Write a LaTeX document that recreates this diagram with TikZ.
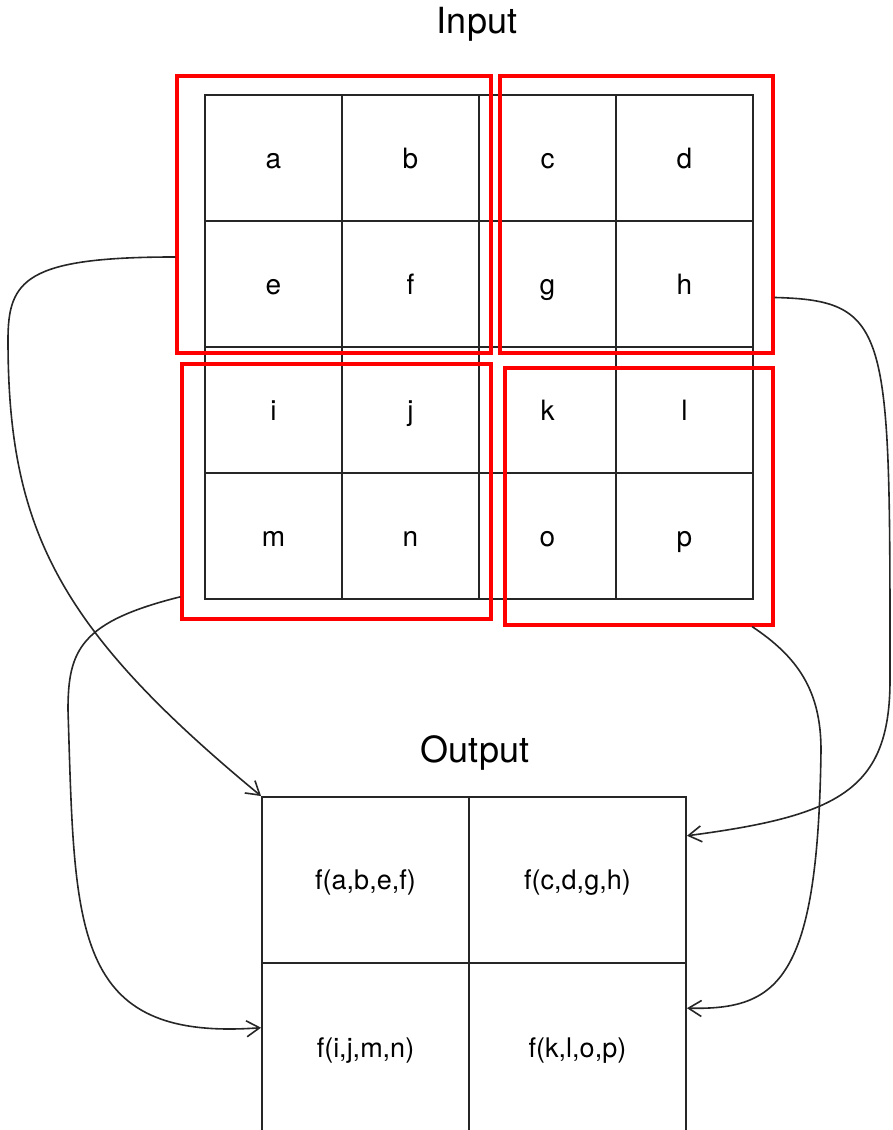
\documentclass[tikz,border=0pt]{standalone}
\usepackage{fontspec}
\setmainfont{TeX Gyre Heros}
\usetikzlibrary{arrows.meta}
\definecolor{rojovivo}{rgb}{1,0,0}
\definecolor{grisoscuro}{rgb}{0.15,0.15,0.15}
\tikzset{
  celda/.style={
    draw=grisoscuro,
    line width=1.9pt,
    minimum width=137pt,
    minimum height=126pt,
    inner sep=0pt,
    text height=22pt,
    text depth=0pt,
    font=\fontsize{28}{32}\selectfont
  },
  salida/.style={
    draw=grisoscuro,
    line width=1.9pt,
    inner sep=0pt,
    text height=25pt,
    text depth=6pt,
    font=\fontsize{27}{32}\selectfont
  },
  marco/.style={
    draw=rojovivo,
    line width=3.2pt,
    inner sep=0pt
  },
  titulo/.style={
    font=\fontsize{36}{40}\selectfont,
    anchor=base
  },
  flecha/.style={
    -{Straight Barb[length=13pt,width=16pt]},
    line width=1.6pt,
    grisoscuro
  }
}
\begin{document}
\begin{tikzpicture}[x=1pt,y=1pt]
\useasboundingbox (0,0) rectangle (892,1130);
\clip (0,0) rectangle (892,1130);
% input grid
\node[titulo] (in) at (477,1096) {Input};
\foreach \l [count=\i from 0] in {a,...,p} {
  \pgfmathtruncatemacro\c{mod(\i,4)}
  \pgfmathtruncatemacro\r{\i/4}
  \node[celda] (\l) at ({273.5+137*\c},{972-126*\r}) {\l};
}
% red blocks
\node[marco,minimum width=314pt,minimum height=277pt] (r1) at (334,915.5) {};
\node[marco,minimum width=273pt,minimum height=277pt] (r2) at (636.5,915.5) {};
\node[marco,minimum width=309pt,minimum height=255pt] (r3) at (336.5,638.5) {};
\node[marco,minimum width=268pt,minimum height=257pt] (r4) at (639,633.5) {};
% output grid
\node[titulo] (out) at (475,367) {Output};
\node[salida,minimum width=207pt,minimum height=166pt] (o1) at (365.5,250) {f(a,b,e,f)};
\node[salida,minimum width=217pt,minimum height=166pt] (o2) at (577.5,250) {f(c,d,g,h)};
\node[salida,minimum width=207pt,minimum height=170pt] (o3) at (365.5,82) {f(i,j,m,n)};
\node[salida,minimum width=217pt,minimum height=170pt] (o4) at (577.5,82) {f(k,l,o,p)};
% connectors
\draw[flecha] (r1.195) .. controls +(-150,0) and +(0,60) .. (8,790)
  .. controls +(0,-190) and +(-202,167) .. (o1.north west);
\draw[flecha] (r3.214) .. controls +(-100,-25) and +(0,60) .. (68,420)
  .. controls +(7,-220) and +(-190,-14) .. (o3.169);
\draw[flecha] (r2.-31) .. controls +(117,-3) and +(0,350) .. (890,450)
  .. controls +(0,-110) and +(152,20) .. (o2.22);
\draw[flecha] (r4.-49) .. controls +(45,-30) and +(0,60) .. (821,380)
  .. controls +(-3,-230) and +(92,-2) .. (o4.20);
\end{tikzpicture}
\end{document}
